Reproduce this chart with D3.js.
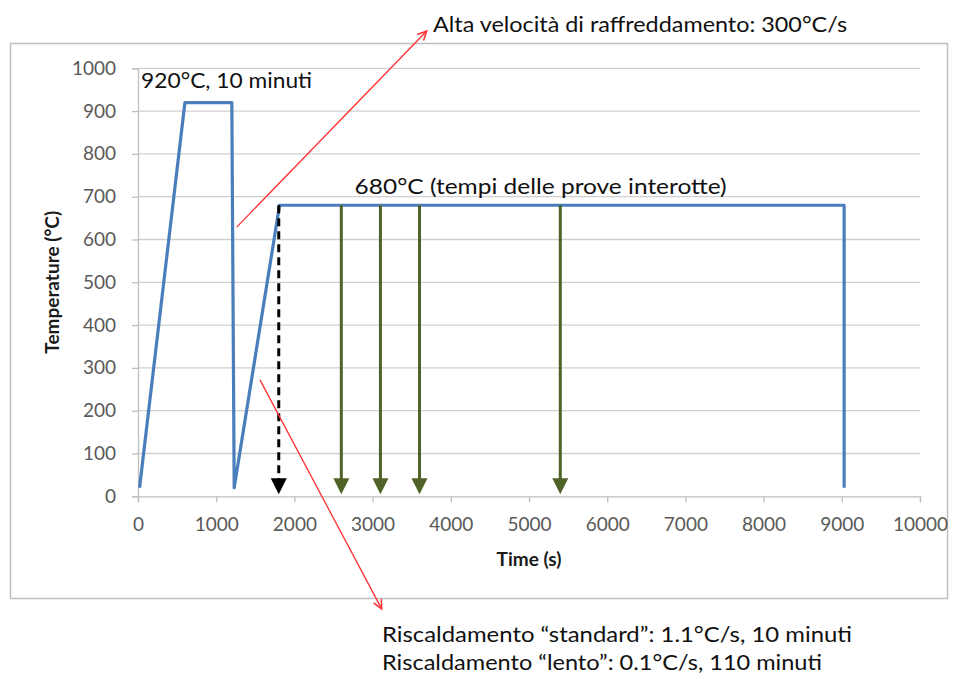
<!DOCTYPE html>
<html><head><meta charset="utf-8">
<script src="https://cdn.jsdelivr.net/npm/d3@7"></script>
<style>body{margin:0;background:#fff}svg{display:block}text{font-family:Lato,"Open Sans",sans-serif}</style>
</head><body>
<script>
// ---- data ----
const times = [20, 600, 1200, 1230, 1810, 9030, 9030];
const temps = [20, 920, 920, 20, 680, 680, 20];
const greenArrowTimes = [2600, 3100, 3600, 5400];
const blackArrowTimes = [1800];
const arrowTop = 680, arrowBottom = 0;
const xTicks = [0,1000,2000,3000,4000,5000,6000,7000,8000,9000,10000];
const yTicks = [0,100,200,300,400,500,600,700,800,900,1000];
const xTitle = "Time (s)";
const yTitle = "Temperature (°C)";
const labelHold = "920°C, 10 minuti";
const labelPlateau = "680°C (tempi delle prove interotte)";
const labelCooling = "Alta velocità di raffreddamento: 300°C/s";
const labelHeat1 = "Riscaldamento “standard”: 1.1°C/s, 10 minuti";
const labelHeat2 = "Riscaldamento “lento”: 0.1°C/s, 110 minuti";

const W = 962, H = 677;
const M = {left:138, right:42, top:68.3, bottom:180.7};
const svg = d3.select("body").append("svg").attr("width",W).attr("height",H);

const x = d3.scaleLinear().domain([0,10000]).range([M.left, W-M.right]);
const y = d3.scaleLinear().domain([0,1000]).range([H-M.bottom, M.top]);

// outer frame
svg.append("rect").attr("x",10.5).attr("y",43.5).attr("width",937).attr("height",555)
  .attr("fill","none").attr("stroke","#bfbfbf").attr("stroke-width",1.5);

// gridlines
svg.append("g").selectAll("line").data(yTicks.filter(d=>d>0)).join("line")
  .attr("x1",x(0)).attr("x2",x(10000)).attr("y1",d=>y(d)).attr("y2",d=>y(d))
  .attr("stroke","#d0d0d0").attr("stroke-width",1.3);

// axes
const xAxis = svg.append("g").attr("transform",`translate(0,${y(0)})`)
  .call(d3.axisBottom(x).tickValues(xTicks).tickFormat(d3.format("d")).tickSize(6).tickPadding(12));
const yAxis = svg.append("g").attr("transform",`translate(${x(0)},0)`)
  .call(d3.axisLeft(y).tickValues(yTicks).tickFormat(d3.format("d")).tickSize(6).tickPadding(16));
[xAxis,yAxis].forEach(g=>{
  g.select(".domain").attr("stroke","#bfbfbf").attr("stroke-width",1.3);
  g.selectAll(".tick line").attr("stroke","#bfbfbf").attr("stroke-width",1.3);
  g.selectAll(".tick text").attr("fill","#595959").style("font-size","19px").style("font-family","Lato, sans-serif");
});
xAxis.selectAll(".tick text").attr("dy","0.9em");

// axis titles
svg.append("text").attr("x",(x(0)+x(10000))/2).attr("y",566).attr("text-anchor","middle")
  .style("font-size","19px").style("font-weight","bold").attr("fill","#1a1a1a").text(xTitle);
svg.append("text").attr("transform",`translate(59,${(y(0)+y(1000))/2}) rotate(-90)`).attr("text-anchor","middle")
  .style("font-size","19px").style("font-weight","bold").attr("fill","#1a1a1a").text(yTitle);

// series
const pts = times.map((t,i)=>[t,temps[i]]);
svg.append("path").datum(pts)
  .attr("d", d3.line().x(d=>x(d[0])).y(d=>y(d[1])))
  .attr("fill","none").attr("stroke","#4a7ebb").attr("stroke-width",3.2).attr("stroke-linejoin","round");

// arrows
function downArrow(t, color, dashed){
  const g = svg.append("g");
  const headH = 16, headW = 8;
  const xp = x(t), y0 = y(arrowTop), y1 = y(arrowBottom) - 2;
  g.append("line").attr("x1",xp).attr("x2",xp).attr("y1",y0).attr("y2",y1-headH+1)
    .attr("stroke",color).attr("stroke-width",3).attr("stroke-dasharray",dashed?"8,5":null);
  g.append("path").attr("d",`M${xp-headW},${y1-headH}L${xp+headW},${y1-headH}L${xp},${y1}Z`).attr("fill",color);
}
blackArrowTimes.forEach(t=>downArrow(t,"#000",true));
greenArrowTimes.forEach(t=>downArrow(t,"#4f6228",false));

// red annotation arrows (data coordinates)
const redArrows = [
  {from:[1262,629], to:[3692,1087]},
  {from:[1560,272], to:[3116,-263]}
];
redArrows.forEach(a=>{
  const x1=x(a.from[0]), y1=y(a.from[1]), x2=x(a.to[0]), y2=y(a.to[1]);
  svg.append("line").attr("x1",x1).attr("y1",y1).attr("x2",x2).attr("y2",y2)
    .attr("stroke","#ff3030").attr("stroke-width",1.3);
  const ang = Math.atan2(y2-y1,x2-x1), L=10, s=0.45;
  const p1=[x2-L*Math.cos(ang-s), y2-L*Math.sin(ang-s)], p2=[x2-L*Math.cos(ang+s), y2-L*Math.sin(ang+s)];
  svg.append("path").attr("d",`M${p1}L${x2},${y2}L${p2}`).attr("fill","none").attr("stroke","#ff3030").attr("stroke-width",1.5);
});

// annotation texts
const tstyle = (sel, len) => sel.style("font-size","22px").attr("fill","#111")
  .attr("textLength",len).attr("lengthAdjust","spacingAndGlyphs");
tstyle(svg.append("text").attr("x",x(40)).attr("y",y(955)).text(labelHold), 171);
tstyle(svg.append("text").attr("x",x(2770)).attr("y",y(707)).text(labelPlateau), 372);
tstyle(svg.append("text").attr("x",433).attr("y",32).text(labelCooling), 414);
tstyle(svg.append("text").attr("x",382).attr("y",642).text(labelHeat1), 470);
tstyle(svg.append("text").attr("x",382).attr("y",670).text(labelHeat2), 440);
</script>
</body></html>
